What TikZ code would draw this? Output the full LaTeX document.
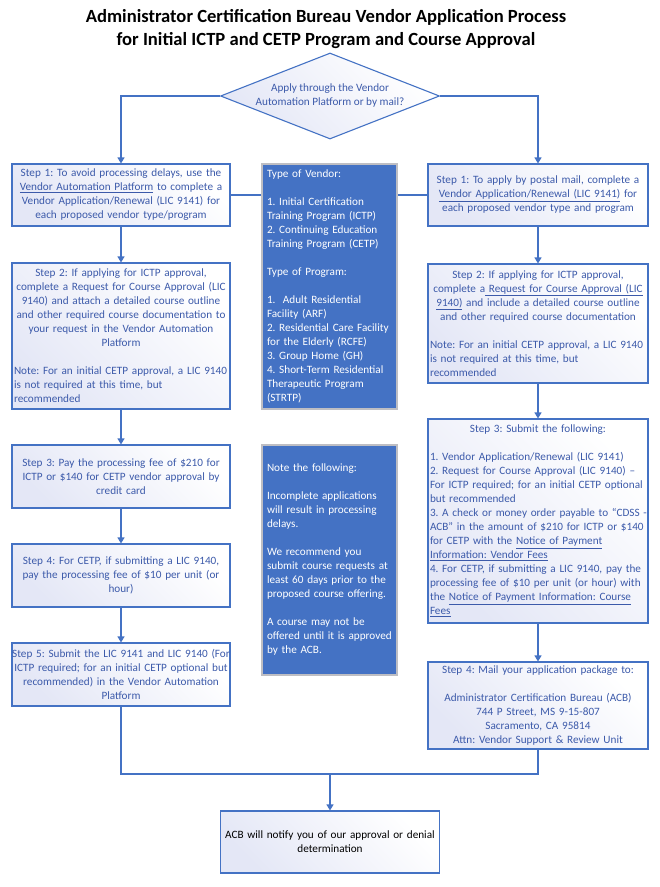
\documentclass[tikz,border=0pt]{standalone}
\usepackage{fontspec}
\setmainfont{Carlito}
\usetikzlibrary{shapes.geometric,arrows.meta}
\definecolor{bline}{RGB}{68,114,196}
\definecolor{btext}{RGB}{60,90,170}
\definecolor{lav}{RGB}{228,231,246}
\definecolor{midfill}{RGB}{68,114,196}
\definecolor{midedge}{RGB}{190,190,195}
\hyphenpenalty=10000
\exhyphenpenalty=10000
\frenchspacing
\newcommand\mycenter{\centering\leftskip=0pt plus 1fil minus 6pt\relax\rightskip=0pt plus 1fil minus 6pt\relax}
\newcommand\myleft{\raggedright\leftskip=0pt\relax\rightskip=0pt plus 1fil minus 10pt\relax}
\newcommand\myul[1]{\underline{#1}}
\begin{document}
\frenchspacing
\begin{tikzpicture}[x=1pt,y=-1pt,
  bodyfont/.style={font=\fontsize{11.2}{14}\selectfont\frenchspacing},
  stepbox/.style={draw=bline, line width=1.1pt, top color=white, bottom color=lav,
    shading angle=-45, text=btext, bodyfont, inner xsep=2pt, inner ysep=0pt,
    execute at begin node=\mycenter},
  midbox/.style={draw=midedge, line width=1.1pt, fill=midfill, text=white, bodyfont,
    inner xsep=5pt, inner ysep=0pt, text width=125pt, minimum width=135pt,
    execute at begin node=\myleft},
  lcol/.style={text width=214pt, minimum width=218pt},
  rcol/.style={text width=216pt, minimum width=220pt},
  line/.style={draw=bline, line width=1.1pt},
  conn/.style={line, -{Triangle[width=7pt,length=6pt]}}
]
\fill[white] (0,0) rectangle (660,887);
\useasboundingbox (0,0) rectangle (660,887);

\node[font=\fontsize{18.6}{23}\selectfont\bfseries, align=center] (title) at (326,29)
  {Administrator Certification Bureau Vendor Application Process\\for Initial ICTP and CETP Program and Course Approval};

\node[diamond, draw=bline, line width=1.1pt, top color=white, bottom color=lav, shading angle=-45,
  aspect=2.55, minimum width=219pt, minimum height=86pt, inner sep=1pt, text=btext, bodyfont, align=center]
  (dia) at (330,96) {Apply through the Vendor\\Automation Platform or by mail?};

% left column
\node[stepbox, lcol, minimum height=62pt] (s1L) at (121,195)
  {Step 1: To avoid processing delays, use the\\ \myul{Vendor Automation Platform} to complete a\\ Vendor Application/Renewal (LIC 9141) for\\ each proposed vendor type/program\par};
\node[stepbox, lcol, minimum height=146pt] (s2L) at (121,336)
  {Step 2: If applying for ICTP approval,\\ complete a Request for Course Approval (LIC\\ 9140) and attach a detailed course outline\\ and other required course documentation to\\ your request in the Vendor Automation\\ Platform\\[14pt]\myleft Note: For an initial CETP approval, a LIC 9140\\ is not required at this time, but\\ recommended\par};
\node[stepbox, lcol, minimum height=63pt] (s3L) at (121,476.5)
  {Step 3: Pay the processing fee of \$210 for\\ ICTP or \$140 for CETP vendor approval by\\ credit card\par};
\node[stepbox, lcol, minimum height=63pt] (s4L) at (121,575.5)
  {Step 4: For CETP, if submitting a LIC 9140,\\ pay the processing fee of \$10 per unit (or\\ hour)\par};
\node[stepbox, lcol, minimum height=63pt] (s5L) at (121,674.5)
  {Step 5: Submit the LIC 9141 and LIC 9140 (For\\ ICTP required; for an initial CETP optional but\\ recommended) in the Vendor Automation\\ Platform\par};

% right column
\node[stepbox, rcol, minimum height=62pt] (s1R) at (538,195)
  {Step 1: To apply by postal mail, complete a\\ \myul{Vendor Application/Renewal (LIC 9141)} for\\ each proposed vendor type and program\par};
\node[stepbox, rcol, minimum height=119pt] (s2R) at (538,323.5)
  {Step 2: If applying for ICTP approval,\\ complete a\myul{ Request for Course Approval (LIC}\\ \myul{9140)} and include a detailed course outline\\ and other required course documentation\\[14pt]\myleft Note: For an initial CETP approval, a LIC 9140\\ is not required at this time, but\\ recommended\par};
\node[stepbox, rcol, minimum height=204pt] (s3R) at (538,521)
  {Step 3: Submit the following:\\[14pt]\myleft 1. Vendor Application/Renewal (LIC 9141)\\ 2. Request for Course Approval (LIC 9140) –\\ For ICTP required; for an initial CETP optional\\ but recommended\\ 3. A check or money order payable to “CDSS -\\ ACB” in the amount of \$210 for ICTP or \$140\\ for CETP with the \myul{Notice of Payment}\\ \myul{Information: Vendor Fees}\\ 4. For CETP, if submitting a LIC 9140, pay the\\ processing fee of \$10 per unit (or hour) with\\ the \myul{Notice of Payment Information: Course}\\ \myul{Fees}\par};
\node[stepbox, rcol, minimum height=87pt] (s4R) at (538,705.5)
  {Step 4: Mail your application package to:\\[14pt] Administrator Certification Bureau (ACB)\\ 744 P Street, MS 9-15-807\\ Sacramento, CA 95814\\ Attn: Vendor Support \& Review Unit\par};

% final
\node[stepbox, text=black, text width=215pt, minimum width=219pt, minimum height=62pt] (fin) at (330,842)
  {ACB will notify you of our approval or denial\\ determination\par};

% connector between the two step 1 boxes (behind the middle box)
\draw[line] (s1L.east) -- (s1R.west);

% middle boxes
\node[midbox, minimum height=245pt] (mid1) at (329.5,286.5)
  {Type of Vendor:\\[14pt] 1. Initial Certification\\ Training Program (ICTP)\\ 2. Continuing Education\\ Training Program (CETP)\\[14pt] Type of Program:\\[14pt] 1.\ \ Adult Residential\\ Facility (ARF)\\ 2. Residential Care Facility\\ for the Elderly (RCFE)\\ 3. Group Home (GH)\\ 4. Short-Term Residential\\ Therapeutic Program\\ (STRTP)\par};
\node[midbox, minimum height=230pt] (mid2) at (329.5,560)
  {Note the following:\\[14pt] Incomplete applications\\ will result in processing\\ delays.\\[14pt] We recommend you\\ submit course requests at\\ least 60 days prior to the\\ proposed course offering.\\[14pt] A course may not be\\ offered until it is approved\\ by the ACB.\par};

% connectors
\draw[conn] (dia.west) -| (s1L.north);
\draw[conn] (dia.east) -| (s1R.north);
\draw[conn] (s1L) -- (s2L);
\draw[conn] (s2L) -- (s3L);
\draw[conn] (s3L) -- (s4L);
\draw[conn] (s4L) -- (s5L);
\draw[conn] (s1R) -- (s2R);
\draw[conn] (s2R) -- (s3R);
\draw[conn] (s3R) -- (s4R);
\coordinate (join) at (330,774);
\draw[line] (s5L.south) |- (join) -| (s4R.south);
\draw[conn] (join) -- (fin.north);
\end{tikzpicture}
\end{document}
